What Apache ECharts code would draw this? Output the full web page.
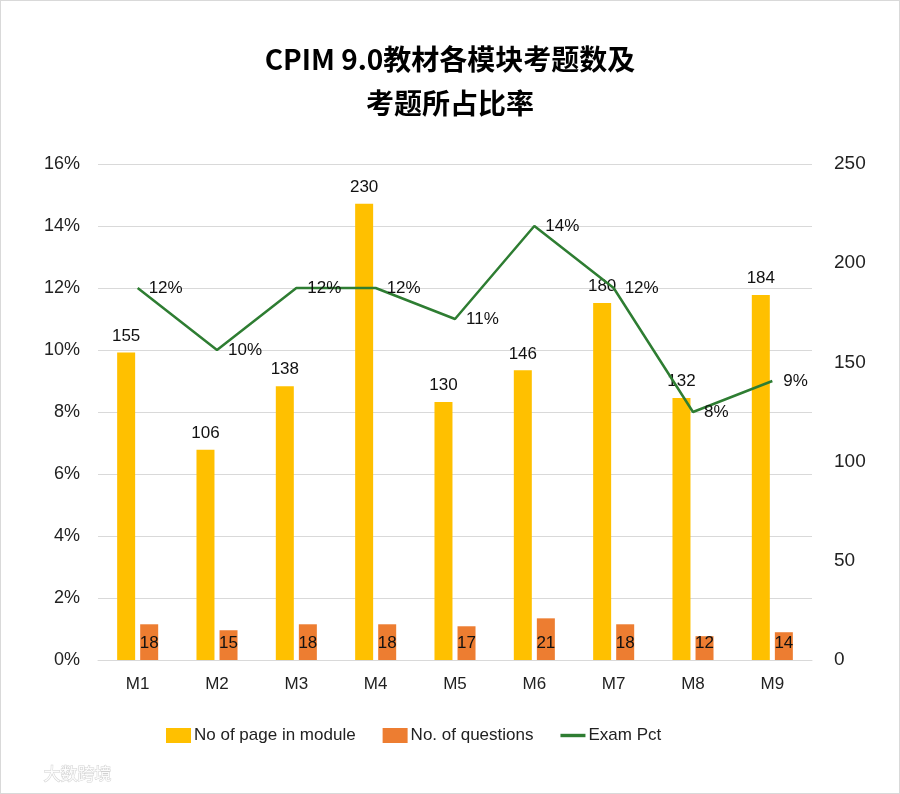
<!DOCTYPE html>
<html>
<head>
<meta charset="utf-8">
<script src="https://cdn.jsdelivr.net/npm/echarts@6/dist/echarts.min.js"></script>
<style>
  html, body { margin: 0; padding: 0; background: #fff; }
  #chart { width: 900px; height: 794px; box-sizing: border-box; border: 1px solid #d9d9d9; }
</style>
</head>
<body>
<div id="chart"></div>
<script>
const modules = ['M1', 'M2', 'M3', 'M4', 'M5', 'M6', 'M7', 'M8', 'M9'];
const pages = [155, 106, 138, 230, 130, 146, 180, 132, 184];
const questions = [18, 15, 18, 18, 17, 21, 18, 12, 14];
const examPct = [0.12, 0.10, 0.12, 0.12, 0.11, 0.14, 0.12, 0.08, 0.09];

const font = '"Liberation Sans", Arial, sans-serif';

const chart = echarts.init(document.getElementById('chart'));

chart.setOption({
    backgroundColor: '#fff',
    animation: false,
    title: {
        text: 'CPIM 9.0教材各模块考题数及\n考题所占比率',
        left: 'center',
        top: 31,
        textStyle: {
            fontFamily: '"Noto Sans CJK SC", "Liberation Sans", sans-serif',
            fontSize: 28,
            fontWeight: 'bold',
            color: '#000',
            lineHeight: 44
        }
    },
    legend: {
        top: 721,
        left: 160,
        itemWidth: 25,
        itemHeight: 15,
        itemGap: 27,
        textStyle: { fontFamily: font, fontSize: 17, color: '#222', padding: [0, 0, 0, -2] },
        data: [
            { name: 'No of page in module', icon: 'rect' },
            { name: 'No. of questions', icon: 'rect' },
            { name: 'Exam Pct', icon: 'path://M0,0 L22,0 L22,3 L0,3 Z' }
        ]
    },
    grid: { left: 97, right: 87, top: 163, bottom: 133 },
    xAxis: {
        type: 'category',
        data: modules,
        axisLine: { lineStyle: { color: '#d9d9d9' } },
        axisTick: { show: false },
        axisLabel: { fontFamily: font, fontSize: 17, color: '#222', margin: 16 }
    },
    yAxis: [
        {
            type: 'value',
            min: 0,
            max: 0.16,
            interval: 0.02,
            axisLabel: {
                fontFamily: font, fontSize: 18, color: '#222', margin: 18,
                formatter: v => Math.round(v * 100) + '%'
            },
            splitLine: { lineStyle: { color: '#d9d9d9' } },
            axisLine: { show: false },
            axisTick: { show: false }
        },
        {
            type: 'value',
            min: 0,
            max: 250,
            interval: 50,
            axisLabel: { fontFamily: font, fontSize: 19, color: '#222', margin: 22 },
            splitLine: { show: false },
            axisLine: { show: false },
            axisTick: { show: false }
        }
    ],
    series: [
        {
            name: 'No of page in module',
            type: 'bar',
            yAxisIndex: 1,
            data: pages,
            barWidth: 18,
            barGap: '28%',
            itemStyle: { color: '#ffc000' },
            label: {
                show: true,
                position: 'top',
                distance: 8,
                fontFamily: font,
                fontSize: 17,
                color: '#111'
            }
        },
        {
            name: 'No. of questions',
            type: 'bar',
            yAxisIndex: 1,
            data: questions,
            barWidth: 18,
            itemStyle: { color: '#ed7d31' },
            label: {
                show: true,
                position: 'insideBottom',
                distance: 8,
                fontFamily: font,
                fontSize: 17,
                color: '#111'
            }
        },
        {
            name: 'Exam Pct',
            type: 'line',
            yAxisIndex: 0,
            data: examPct,
            symbol: 'circle',
            symbolSize: 0,
            lineStyle: { color: '#2e7d32', width: 2.5 },
            itemStyle: { color: '#2e7d32' },
            label: {
                show: true,
                position: 'right',
                distance: 11,
                fontFamily: font,
                fontSize: 17,
                color: '#111',
                formatter: p => Math.round(p.value * 100) + '%'
            }
        }
    ],
    graphic: [
        {
            type: 'text',
            left: 42,
            top: 764,
            style: {
                text: '大数跨境',
                fontFamily: '"Noto Sans CJK SC", sans-serif',
                fontSize: 17,
                fill: 'rgba(255,255,255,0.9)',
                stroke: 'rgba(190,190,190,0.7)',
                lineWidth: 1
            }
        }
    ]
});
</script>
</body>
</html>
